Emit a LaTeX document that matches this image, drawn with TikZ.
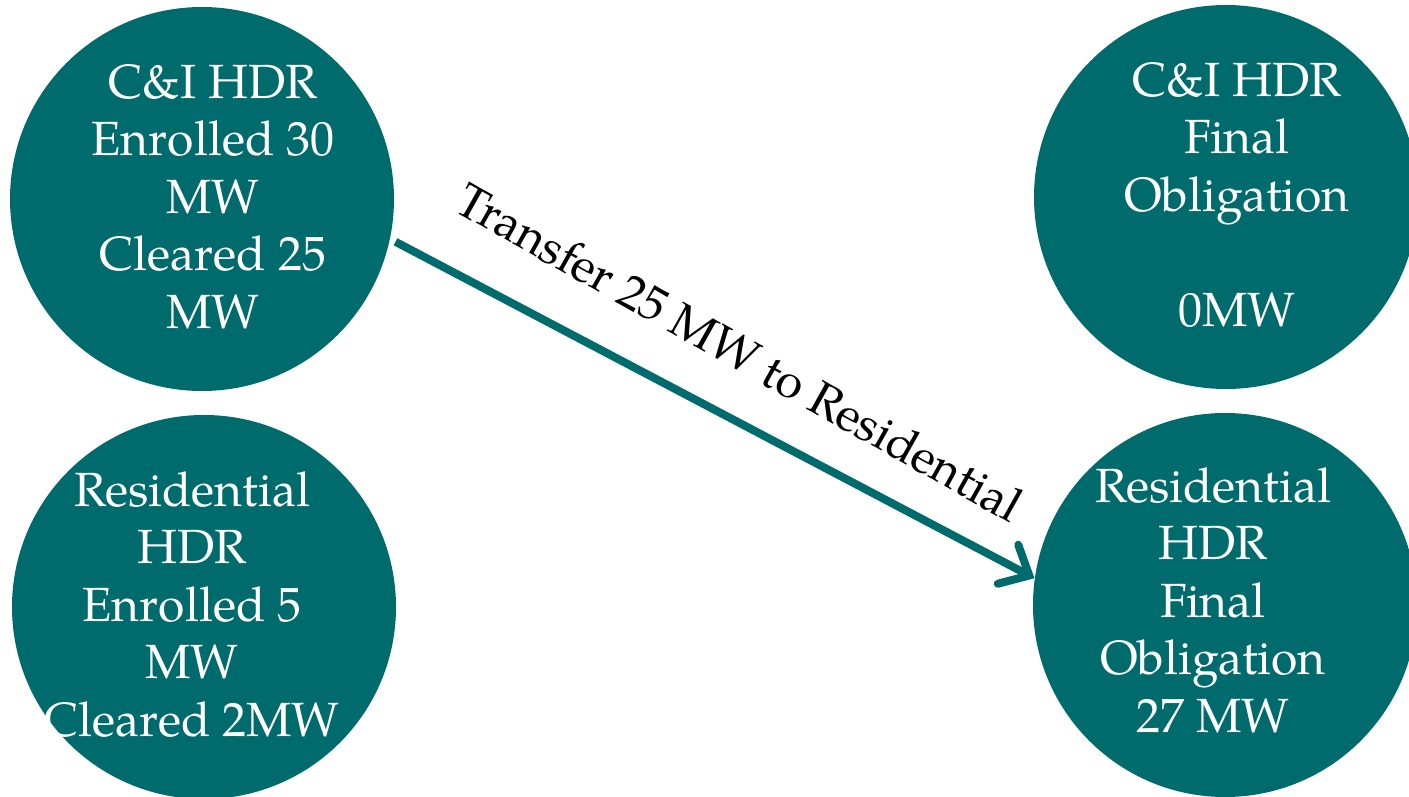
\documentclass[tikz,border=0pt]{standalone}
\usepackage{fontspec}
\setmainfont{TeX Gyre Pagella}
\usetikzlibrary{arrows.meta}
\definecolor{tealc}{HTML}{006B6D}
\tikzset{
  circ/.style={circle, fill=tealc, draw=none, minimum size=192pt, inner sep=0pt},
  ctext/.style={text=white, align=center, anchor=base, inner sep=0pt,
                font=\fontsize{24pt}{28.75pt}\selectfont},
  lbl/.style={text=black, inner sep=0pt, font=\fontsize{24pt}{28.75pt}\selectfont},
  flow/.style={draw=tealc, line width=4pt,
     -{Straight Barb[length=12pt, width=22pt, line cap=round]}}
}
\begin{document}
\begin{tikzpicture}[x=0.5pt, y=-0.5pt]
\useasboundingbox (0,0) rectangle (1409,797);
\clip (0,0) rectangle (1409,797);
\node[circ] (ci) at (202,199) {};
\node[circ] (res) at (204,607) {};
\node[circ] (cif) at (1226,197) {};
\node[circ] (resf) at (1225,605) {};
\node[ctext] (tci) at (213,328) {C\&I HDR\\Enrolled 30\\MW\\Cleared 25\\MW};
\node[ctext] (tres) at (192,736) {Residential\\HDR\\Enrolled 5\\MW\\Cleared 2MW};
\node[ctext] (tcif) at (1237,326) {C\&I HDR\\Final\\Obligation\\ \\0MW};
\node[ctext] (tresf) at (1213,732) {Residential\\HDR\\Final\\Obligation\\27 MW};
\draw[flow, shorten <=3pt] (ci.-12.8) -- (resf.172);
\node[lbl, rotate=-29.3] (tr) at (740,352) {Transfer 25 MW to Residential};
\end{tikzpicture}
\end{document}
